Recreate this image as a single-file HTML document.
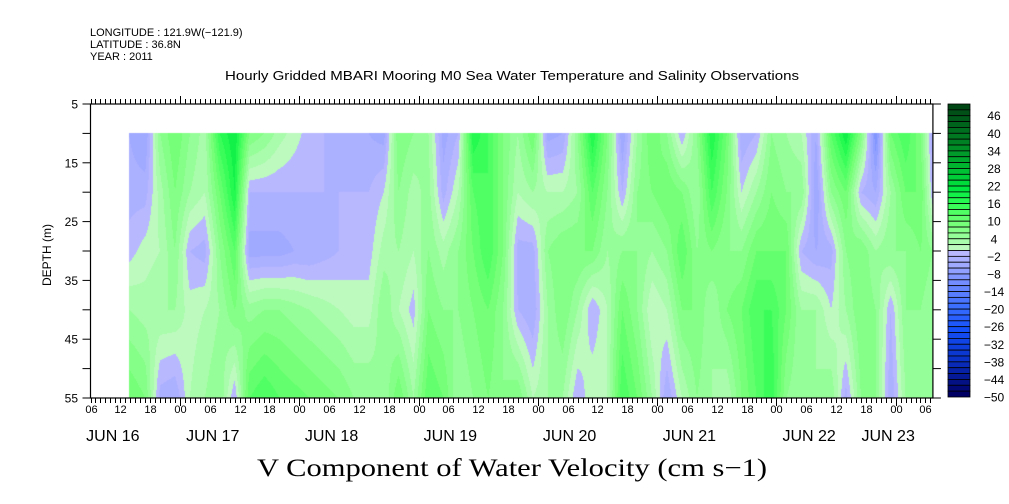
<!DOCTYPE html>
<html><head><meta charset="utf-8">
<style>
html,body{margin:0;padding:0;background:#fff;}
#wrap{position:relative;width:1009px;height:504px;overflow:hidden;}
canvas,svg{position:absolute;left:0;top:0;}
text{font-family:"Liberation Sans",sans-serif;fill:#000;}
</style></head>
<body>
<div id="wrap">
<canvas id="field" width="1009" height="504"></canvas>
<svg id="ax" width="1009" height="504">
<text x="90" y="36" font-size="11">LONGITUDE : 121.9W(−121.9)</text>
<text x="90" y="48" font-size="11">LATITUDE : 36.8N</text>
<text x="90" y="60" font-size="11">YEAR : 2011</text>
<text x="512" y="80" font-size="12.5" text-anchor="middle" textLength="574" lengthAdjust="spacingAndGlyphs">Hourly Gridded MBARI Mooring M0 Sea Water Temperature and Salinity Observations</text>
<text x="0" y="0" font-size="12" text-anchor="middle" transform="translate(51,255) rotate(-90)">DEPTH (m)</text>
<text x="512" y="476" font-size="25" text-anchor="middle" textLength="510" lengthAdjust="spacingAndGlyphs" style="font-family:'Liberation Serif',serif">V Component of Water Velocity (cm s−1)</text>
</svg>
</div>
<script>
// ---- data (hours since JUN 16 00:00; depths in m; V in cm/s) ----
const times = [13.7,17,20,23,26,29,32,35,38,41,44,47,50,53,56,59,62,65,68,71,74,77,80,83,86,89,92,95,98,101,104,107,110,113,116,119,122,125,128,131,134,137,140,143,146,149,152,155,158,161,164,167,170,173,175.5];
const depths = [10,20,30,40,55];
const v10 = [-4,-6,6,10,6,3,16,20,8,6,3,1,-1,-2,-3,-4,-4,-5,8,6,4,-5,-2,18,14,8,4,10,-5,-4,6,18,8,-6,4,10,6,-2,6,18,10,-4,-2,6,4,2,-4,12,20,8,-10,10,14,8,-4];
const v20 = [-3,-3,3,8,4,2,10,18,-2,-2,-2,-2,-2,-2,-2,-2,-2,0,6,3,5,-3,2,12,14,8,2,4,2,2,4,12,6,-2,6,8,10,8,4,14,8,0,4,8,6,6,-6,6,10,-2,-4,4,10,10,-2];
const v30 = [-1,1,2,6,-2,-3,6,12,-5,-5,-5,-4,-4,-3,-2,-1,-1,3,4,2,6,3,6,10,14,8,-3,-3,6,8,8,8,4,6,6,4,6,12,6,8,6,6,10,10,10,-2,-4,-3,6,8,4,6,6,8,6];
const v40 = [4,3,4,4,1,2,4,8,5,6,6,5,4,3,2,1,1,6,2,-1,8,6,6,8,10,6,-2,-4,4,8,4,-2,2,10,6,0,2,8,8,4,8,10,14,14,10,4,4,0,4,8,6,-2,6,6,4];
const v55 = [10,8,-3,-4,2,4,6,-2,12,14,12,11,10,9,8,6,6,4,10,4,12,10,4,6,8,6,8,2,4,4,-2,2,2,14,10,4,-4,2,6,4,2,8,12,16,6,4,4,6,-3,6,6,-4,4,4,4];
const rows = [v10,v20,v30,v40,v55];
const yTicks = [5,15,25,35,45,55];
const hourLabels = ["06","12","18","00"];
const dayLabels = ["JUN 16","JUN 17","JUN 18","JUN 19","JUN 20","JUN 21","JUN 22","JUN 23"];
const dayLabelHours = [10.5,30.6,54.5,78.4,102.4,126.5,150.6,166.5];
const cbLabels = [46,40,34,28,22,16,10,4,-2,-8,-14,-20,-26,-32,-38,-44,-50];

// ---- scales ----
const X0=90.5, PX_PER_H=4.97, H0=6, HMAX=175.5;
const Y0=104, PX_PER_M=5.88, D0=5, DMAX=55;
const xScale = h => X0 + (h-H0)*PX_PER_H;
const yScale = d => Y0 + (d-D0)*PX_PER_M;
const xRight = xScale(HMAX), yBottom = yScale(DMAX);

// ---- palette ----
const posA=[[0,[188,250,190]],[4,[150,254,152]],[8,[118,255,120]],[12,[80,255,100]],[16,[36,250,80]],[20,[0,232,64]],[28,[0,180,48]],[36,[0,130,36]],[48,[0,70,20]]];
const negA=[[-2,[184,184,255]],[-6,[160,170,255]],[-12,[115,140,255]],[-20,[60,110,255]],[-28,[20,80,250]],[-38,[10,50,200]],[-50,[0,0,100]]];
function interp(anch,v){
  for(let i=0;i<anch.length-1;i++){
    const a=anch[i],b=anch[i+1];
    const lo=Math.min(a[0],b[0]),hi=Math.max(a[0],b[0]);
    if(v>=lo&&v<=hi){const t=(v-a[0])/(b[0]-a[0]);return a[1].map((c,k)=>Math.round(c+(b[1][k]-c)*t));}
  }
  return anch[anch.length-1][1];
}
function levelColor(v){
  let l=Math.floor(v/2)*2;
  l=Math.max(-50,Math.min(48,l));
  return l>=0?interp(posA,l):interp(negA,l);
}

// ---- field ----
function sample(h,d){
  let i=0; while(i<times.length-2 && h>times[i+1]) i++;
  let j=0; while(j<depths.length-2 && d>depths[j+1]) j++;
  const tx=Math.max(0,Math.min(1,(h-times[i])/(times[i+1]-times[i])));
  const ty=Math.max(0,Math.min(1,(d-depths[j])/(depths[j+1]-depths[j])));
  const a=rows[j][i],b=rows[j][i+1],c=rows[j+1][i],e=rows[j+1][i+1];
  return (a*(1-tx)+b*tx)*(1-ty)+(c*(1-tx)+e*tx)*ty;
}
const cv=document.getElementById('field'),ctx=cv.getContext('2d');
const xs=Math.round(xScale(times[0])), xe=Math.round(xScale(times[times.length-1]));
const ys=Math.round(yScale(depths[0])), ye=Math.round(yScale(depths[depths.length-1]));
const img=ctx.createImageData(xe-xs,ye-ys);
for(let py=ys;py<ye;py++){
  const d=D0+(py+0.5-Y0)/PX_PER_M;
  for(let px=xs;px<xe;px++){
    const h=H0+(px+0.5-X0)/PX_PER_H;
    const col=levelColor(sample(h,d));
    const o=((py-ys)*(xe-xs)+(px-xs))*4;
    img.data[o]=col[0];img.data[o+1]=col[1];img.data[o+2]=col[2];img.data[o+3]=255;
  }
}
ctx.putImageData(img,xs,ys);

// ---- axes ----
const svg=document.getElementById('ax'), NS='http://www.w3.org/2000/svg';
function mk(tag,attrs,parent){const e=document.createElementNS(NS,tag);for(const k in attrs)e.setAttribute(k,attrs[k]);(parent||svg).appendChild(e);return e;}
const frame=mk('rect',{x:X0,y:Y0,width:xRight-X0,height:yBottom-Y0,fill:'none',stroke:'#000','stroke-width':1.2});


const g=mk('g',{stroke:'#000','stroke-width':1});


for(let h=H0;h<=HMAX;h+=1){
  const x=Math.round(xScale(h))+0.5, major=(h%24===0);
  const L=major?8:5;
  mk('line',{x1:x,y1:yBottom,x2:x,y2:yBottom+L},g);
  mk('line',{x1:x,y1:Y0,x2:x,y2:Y0-L},g);
  if(h%6===0){
    const t=mk('text',{x:x,y:413,'font-size':11,'text-anchor':'middle',stroke:'none'});
    t.textContent=hourLabels[(h/6-1)%4];
    
    
  }
}
for(let d=D0;d<=DMAX;d+=5){
  const y=yScale(d);
  mk('line',{x1:X0-8,y1:y,x2:X0,y2:y},g);
  mk('line',{x1:xRight,y1:y,x2:xRight+8,y2:y},g);
}
yTicks.forEach(d=>{
  const t=mk('text',{x:78,y:yScale(d)+4.5,'font-size':12,'text-anchor':'end'});
  t.textContent=d;
  
  
});
dayLabels.forEach((s,i)=>{
  const t=mk('text',{x:xScale(dayLabelHours[i]),y:441,'font-size':16,'text-anchor':'middle'});
  t.textContent=s;
  
  
});

// ---- colorbar ----
const CB_X=948,CB_W=22,CB_TOP=104,CB_BOT=397;
const boxH=(CB_BOT-CB_TOP)/50;
const cb=mk('g',{});


for(let i=0;i<50;i++){
  const lv=48-i*2;
  const c=levelColor(lv+1);
  const r=mk('rect',{x:CB_X,y:CB_TOP+i*boxH,width:CB_W,height:boxH,fill:`rgb(${c[0]},${c[1]},${c[2]})`,stroke:'#000','stroke-width':0.8},cb);
  
  
}
cbLabels.forEach(v=>{
  const y=CB_TOP+(50-v)/2*boxH;
  const t=mk('text',{x:994,y:y+4.5,'font-size':12,'text-anchor':'middle'},cb);
  t.textContent=v<0?'−'+(-v):String(v);
  
  
});
</script>
</body></html>
